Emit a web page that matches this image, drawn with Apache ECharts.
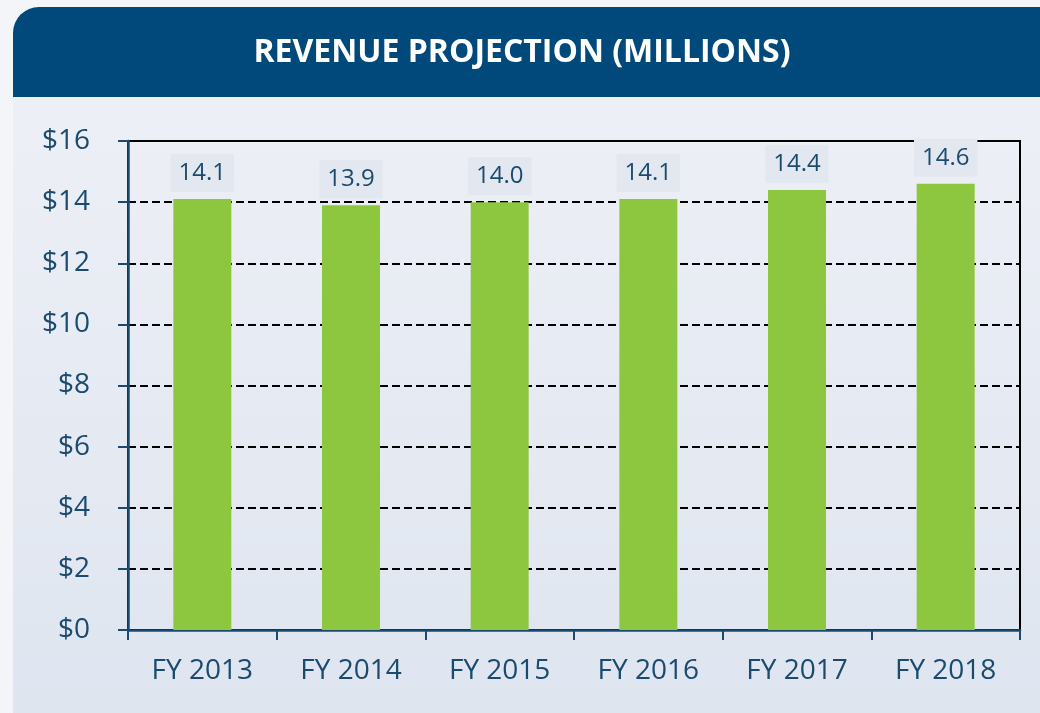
<!DOCTYPE html>
<html>
<head>
<meta charset="utf-8">
<script src="https://cdn.jsdelivr.net/npm/echarts@6/dist/echarts.min.js"></script>
<style>
  html, body { margin: 0; padding: 0; background: #f4f5f8; }
  #main { width: 1040px; height: 713px; }
</style>
</head>
<body>
<div id="main"></div>
<script>
// data
const years = ["FY 2013", "FY 2014", "FY 2015", "FY 2016", "FY 2017", "FY 2018"];
const revenue = [14.1, 13.9, 14.0, 14.1, 14.4, 14.6];
const yTicks = { min: 0, max: 16, step: 2 };
const titleText = "REVENUE PROJECTION (MILLIONS)";

const navy = "#1b4a70";
const textBlue = "#1a4b6e";

const chart = echarts.init(document.getElementById("main"));

chart.setOption({
  animation: false,
  graphic: [
    // body panel with soft gradient
    {
      type: "rect",
      z: -10,
      shape: { x: 13, y: 60, width: 1040, height: 713, r: [26, 0, 0, 0] },
      style: {
        fill: new echarts.graphic.LinearGradient(0, 0, 0, 1, [
          { offset: 0, color: "#eef0f6" },
          { offset: 1, color: "#dde4ef" },
        ]),
      },
    },
    // header band
    {
      type: "rect",
      z: -5,
      shape: { x: 13, y: 7, width: 1040, height: 90, r: [26, 0, 0, 0] },
      style: { fill: "#00497a" },
    },
    {
      type: "text",
      z: 10,
      x: 522,
      y: 53,
      style: {
        text: titleText,
        fill: "#ffffff",
        font: "bold 32px 'Open Sans', sans-serif",
        align: "center",
        verticalAlign: "middle",
      },
    },
  ],
  grid: {
    left: 128,
    right: 20,
    top: 141,
    bottom: 83,
    show: true,
    borderColor: "#000",
    borderWidth: 2,
    backgroundColor: "transparent",
  },
  xAxis: {
    type: "category",
    data: years,
    axisLine: { lineStyle: { color: navy, width: 2.5 } },
    axisTick: { show: true, length: 10, lineStyle: { color: navy, width: 2 } },
    axisLabel: {
      margin: 27,
      color: textBlue,
      fontSize: 28,
      fontFamily: "'Open Sans', sans-serif",
    },
  },
  yAxis: {
    type: "value",
    min: yTicks.min,
    max: yTicks.max,
    interval: yTicks.step,
    axisLine: { show: true, lineStyle: { color: navy, width: 2.5 } },
    axisTick: { show: true, length: 10, lineStyle: { color: navy, width: 2 } },
    axisLabel: {
      margin: 38,
      color: textBlue,
      fontSize: 28,
      fontFamily: "'Open Sans', sans-serif",
      formatter: (v) => "$" + v,
    },
    splitLine: {
      show: true,
      lineStyle: { color: "#000", width: 2.2, type: [8, 4] },
    },
  },
  series: [
    {
      type: "bar",
      data: revenue,
      barWidth: "39%",
      itemStyle: { color: "#8dc63f" },
      label: {
        show: true,
        position: "top",
        distance: 7,
        formatter: (p) => p.value.toFixed(1),
        color: textBlue,
        fontSize: 24,
        fontFamily: "'Open Sans', sans-serif",
        backgroundColor: "#e3e7f0",
        padding: [7, 8],
      },
    },
  ],
});
</script>
</body>
</html>
